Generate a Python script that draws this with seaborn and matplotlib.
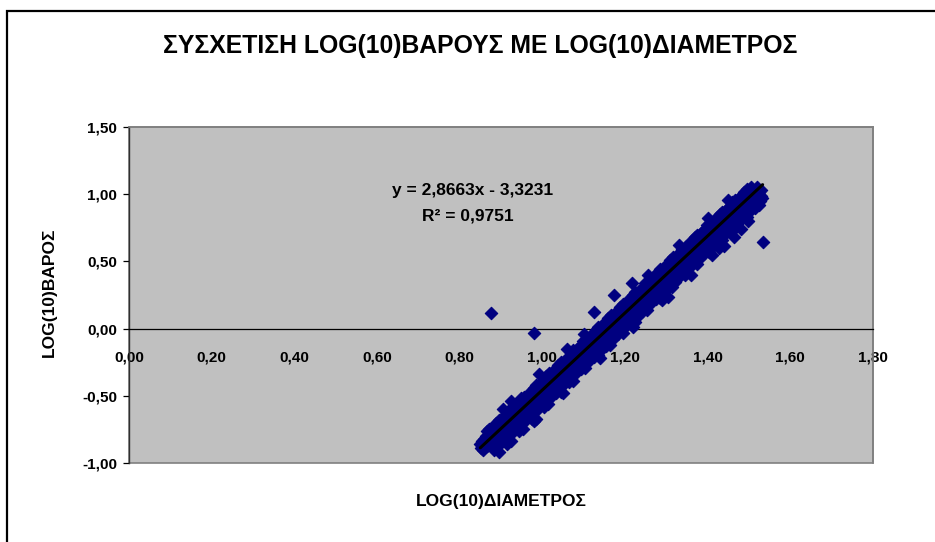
import matplotlib
matplotlib.use("Agg")
import matplotlib.pyplot as plt
import seaborn as sns
import pandas as pd
from matplotlib.patches import Rectangle

# ---------------- data ----------------
title = "ΣΥΣΧΕΤΙΣΗ LOG(10)ΒΑΡΟΥΣ ΜΕ LOG(10)ΔΙΑΜΕΤΡΟΣ"
x_label = "LOG(10)ΔΙΑΜΕΤΡΟΣ"
y_label = "LOG(10)ΒΑΡΟΣ"
x_ticks = [0.0, 0.2, 0.4, 0.6, 0.8, 1.0, 1.2, 1.4, 1.6, 1.8]
y_ticks = [-1.0, -0.5, 0.0, 0.5, 1.0, 1.5]
slope = 2.8663
intercept = -3.3231
r_squared = 0.9751

log_diam = [
    0.850, 0.852, 0.854, 0.855, 0.857, 0.859, 0.860, 0.862, 0.864, 0.865, 0.867, 0.869,
    0.870, 0.872, 0.874, 0.875, 0.877, 0.879, 0.880, 0.882, 0.884, 0.885, 0.887, 0.889,
    0.890, 0.892, 0.894, 0.895, 0.897, 0.899, 0.900, 0.902, 0.904, 0.905, 0.907, 0.909,
    0.910, 0.912, 0.914, 0.915, 0.917, 0.919, 0.920, 0.922, 0.924, 0.925, 0.927, 0.929,
    0.930, 0.932, 0.934, 0.935, 0.937, 0.939, 0.940, 0.942, 0.944, 0.945, 0.947, 0.949,
    0.950, 0.952, 0.954, 0.955, 0.957, 0.959, 0.960, 0.962, 0.964, 0.965, 0.967, 0.969,
    0.970, 0.972, 0.974, 0.975, 0.977, 0.979, 0.980, 0.982, 0.984, 0.985, 0.987, 0.989,
    0.990, 0.992, 0.994, 0.995, 0.997, 0.999, 1.000, 1.002, 1.004, 1.005, 1.007, 1.009,
    1.010, 1.012, 1.014, 1.015, 1.017, 1.019, 1.020, 1.022, 1.024, 1.025, 1.027, 1.029,
    1.030, 1.032, 1.034, 1.035, 1.037, 1.039, 1.040, 1.042, 1.044, 1.045, 1.047, 1.049,
    1.050, 1.052, 1.054, 1.055, 1.057, 1.059, 1.060, 1.062, 1.064, 1.065, 1.067, 1.069,
    1.070, 1.072, 1.074, 1.075, 1.077, 1.079, 1.080, 1.082, 1.084, 1.085, 1.087, 1.089,
    1.090, 1.092, 1.094, 1.095, 1.097, 1.099, 1.100, 1.102, 1.104, 1.105, 1.107, 1.109,
    1.110, 1.112, 1.114, 1.115, 1.117, 1.119, 1.120, 1.122, 1.124, 1.125, 1.127, 1.129,
    1.130, 1.132, 1.134, 1.135, 1.137, 1.139, 1.140, 1.142, 1.144, 1.145, 1.147, 1.149,
    1.150, 1.152, 1.154, 1.155, 1.157, 1.159, 1.160, 1.162, 1.164, 1.165, 1.167, 1.169,
    1.170, 1.172, 1.174, 1.175, 1.177, 1.179, 1.180, 1.182, 1.184, 1.185, 1.187, 1.189,
    1.190, 1.192, 1.194, 1.195, 1.197, 1.199, 1.200, 1.202, 1.204, 1.205, 1.207, 1.209,
    1.210, 1.212, 1.214, 1.215, 1.217, 1.219, 1.220, 1.222, 1.224, 1.225, 1.227, 1.229,
    1.230, 1.232, 1.234, 1.235, 1.237, 1.239, 1.240, 1.242, 1.244, 1.245, 1.247, 1.249,
    1.250, 1.252, 1.254, 1.255, 1.257, 1.259, 1.260, 1.262, 1.264, 1.265, 1.267, 1.269,
    1.270, 1.272, 1.274, 1.275, 1.277, 1.279, 1.280, 1.282, 1.284, 1.285, 1.287, 1.289,
    1.290, 1.292, 1.294, 1.295, 1.297, 1.299, 1.300, 1.302, 1.304, 1.305, 1.307, 1.309,
    1.310, 1.312, 1.314, 1.315, 1.317, 1.319, 1.320, 1.322, 1.324, 1.325, 1.327, 1.329,
    1.330, 1.332, 1.334, 1.335, 1.337, 1.339, 1.340, 1.342, 1.344, 1.345, 1.347, 1.349,
    1.350, 1.352, 1.354, 1.355, 1.357, 1.359, 1.360, 1.362, 1.364, 1.365, 1.367, 1.369,
    1.370, 1.372, 1.374, 1.375, 1.377, 1.379, 1.380, 1.382, 1.384, 1.385, 1.387, 1.389,
    1.390, 1.392, 1.394, 1.395, 1.397, 1.399, 1.400, 1.402, 1.404, 1.405, 1.407, 1.409,
    1.410, 1.412, 1.414, 1.415, 1.417, 1.419, 1.420, 1.422, 1.424, 1.425, 1.427, 1.429,
    1.430, 1.432, 1.434, 1.435, 1.437, 1.439, 1.440, 1.442, 1.444, 1.445, 1.447, 1.449,
    1.450, 1.452, 1.454, 1.455, 1.457, 1.459, 1.460, 1.462, 1.464, 1.465, 1.467, 1.469,
    1.470, 1.472, 1.474, 1.475, 1.477, 1.479, 1.480, 1.482, 1.484, 1.485, 1.487, 1.489,
    1.490, 1.492, 1.494, 1.495, 1.497, 1.499, 1.500, 1.502, 1.504, 1.505, 1.507, 1.509,
    1.510, 1.512, 1.514, 1.515, 1.517, 1.519, 1.520, 1.522, 1.524, 1.525, 1.527, 1.529,
    1.530, 1.532,
]
log_weight = [
    -0.86, -0.89, -0.87, -0.84, -0.90, -0.85, -0.82, -0.88, -0.80, -0.76, -0.87, -0.82,
    -0.75, -0.86, -0.79, -0.78, -0.86, -0.74, -0.73, -0.82, -0.90, -0.77, -0.86, -0.70,
    -0.81, -0.72, -0.92, -0.68, -0.85, -0.76, -0.85, -0.70, -0.79, -0.67, -0.74, -0.84,
    -0.64, -0.73, -0.85, -0.68, -0.77, -0.61, -0.73, -0.64, -0.84, -0.59, -0.76, -0.67,
    -0.77, -0.62, -0.71, -0.58, -0.65, -0.73, -0.56, -0.65, -0.76, -0.59, -0.68, -0.52,
    -0.64, -0.55, -0.75, -0.51, -0.68, -0.59, -0.68, -0.53, -0.62, -0.50, -0.57, -0.64,
    -0.47, -0.56, -0.67, -0.51, -0.60, -0.44, -0.55, -0.46, -0.67, -0.42, -0.59, -0.50,
    -0.60, -0.45, -0.54, -0.41, -0.48, -0.56, -0.39, -0.48, -0.58, -0.42, -0.51, -0.35,
    -0.47, -0.38, -0.56, -0.33, -0.50, -0.41, -0.51, -0.36, -0.45, -0.33, -0.40, -0.47,
    -0.30, -0.39, -0.48, -0.34, -0.43, -0.27, -0.38, -0.29, -0.47, -0.25, -0.42, -0.33,
    -0.42, -0.27, -0.36, -0.24, -0.31, -0.38, -0.22, -0.31, -0.40, -0.25, -0.34, -0.18,
    -0.30, -0.21, -0.39, -0.16, -0.33, -0.24, -0.34, -0.19, -0.28, -0.15, -0.22, -0.29,
    -0.13, -0.22, -0.30, -0.16, -0.25, -0.09, -0.21, -0.12, -0.29, -0.08, -0.25, -0.16,
    -0.25, -0.10, -0.19, -0.07, -0.14, -0.21, -0.04, -0.13, -0.21, -0.08, -0.17, -0.01,
    -0.12, -0.03, -0.20, 0.01, -0.16, -0.07, -0.17, -0.02, -0.11, 0.02, -0.05, -0.12,
    0.04, -0.05, -0.13, 0.01, -0.08, 0.08, -0.04, 0.05, -0.12, 0.10, -0.07, 0.02,
    -0.08, 0.07, -0.02, 0.11, 0.04, -0.04, 0.13, 0.04, -0.04, 0.09, 0.00, 0.16,
    0.05, 0.14, -0.03, 0.18, 0.01, 0.10, 0.01, 0.16, 0.07, 0.19, 0.12, 0.05,
    0.22, 0.13, 0.05, 0.18, 0.09, 0.25, 0.13, 0.22, 0.05, 0.27, 0.10, 0.19,
    0.09, 0.24, 0.15, 0.28, 0.21, 0.14, 0.30, 0.21, 0.13, 0.27, 0.18, 0.34,
    0.22, 0.31, 0.14, 0.35, 0.18, 0.27, 0.18, 0.33, 0.24, 0.36, 0.29, 0.22,
    0.39, 0.30, 0.22, 0.35, 0.26, 0.42, 0.31, 0.40, 0.23, 0.44, 0.27, 0.36,
    0.27, 0.42, 0.33, 0.45, 0.38, 0.31, 0.47, 0.38, 0.30, 0.44, 0.35, 0.51,
    0.39, 0.48, 0.31, 0.53, 0.36, 0.45, 0.35, 0.50, 0.41, 0.54, 0.47, 0.40,
    0.56, 0.47, 0.39, 0.52, 0.43, 0.59, 0.48, 0.57, 0.40, 0.61, 0.44, 0.53,
    0.44, 0.59, 0.50, 0.62, 0.55, 0.48, 0.65, 0.56, 0.48, 0.61, 0.52, 0.68,
    0.56, 0.65, 0.48, 0.70, 0.53, 0.62, 0.52, 0.67, 0.58, 0.71, 0.64, 0.57,
    0.73, 0.64, 0.56, 0.70, 0.61, 0.77, 0.65, 0.74, 0.57, 0.78, 0.61, 0.70,
    0.61, 0.76, 0.67, 0.79, 0.72, 0.65, 0.82, 0.73, 0.65, 0.78, 0.69, 0.85,
    0.74, 0.83, 0.66, 0.87, 0.70, 0.79, 0.70, 0.85, 0.76, 0.88, 0.81, 0.74,
    0.90, 0.81, 0.73, 0.87, 0.78, 0.94, 0.82, 0.91, 0.74, 0.96, 0.79, 0.88,
    0.78, 0.93, 0.84, 0.97, 0.90, 0.83, 0.99, 0.90, 0.82, 0.95, 0.86, 1.02,
    0.91, 1.00, 0.83, 1.04, 0.87, 0.96, 0.87, 1.02, 0.93, 1.05, 0.98, 0.91,
    1.03, 0.98, 0.90, 1.00, 0.94, 1.05, 0.99, 1.04, 0.92, 1.02, 0.95, 0.99,
    1.03, 0.97,
]
# scattered points at the edges of the band and clear outliers
edge_diam = [0.905, 0.925, 0.992, 1.060, 1.100, 1.255, 1.330, 1.400, 1.450,
             0.915, 0.980, 1.050, 1.140, 1.220, 1.290, 1.360, 1.410, 1.480]
edge_weight = [-0.60, -0.54, -0.34, -0.15, -0.04, 0.40, 0.62, 0.82, 0.96,
               -0.86, -0.69, -0.48, -0.22, 0.01, 0.21, 0.40, 0.55, 0.74]
outlier_diam = [0.876, 0.981, 1.125, 1.174, 1.216, 1.303, 1.427, 1.440, 1.464, 1.497, 1.517, 1.533]
outlier_weight = [0.114, -0.035, 0.120, 0.248, 0.343, 0.238, 0.600, 0.615, 0.678, 0.800, 0.910, 0.645]

# ---------------- figure ----------------
sns.set_style("white")
plt.rcParams["font.family"] = ["Liberation Sans", "DejaVu Sans"]
plt.rcParams["font.weight"] = "bold"
plt.rcParams["text.color"] = "black"
plt.rcParams["axes.labelcolor"] = "black"
plt.rcParams["xtick.color"] = "black"
plt.rcParams["ytick.color"] = "black"

W, H = 935, 542
fig = plt.figure(figsize=(W / 100, H / 100), dpi=100)
fig.patch.set_facecolor("white")

ax = fig.add_axes([129 / W, 1 - 463 / H, 744 / W, 336 / H])
ax.set_facecolor("#C0C0C0")

df = pd.DataFrame({"x": log_diam + edge_diam + outlier_diam,
                   "y": log_weight + edge_weight + outlier_weight})
sns.scatterplot(data=df, x="x", y="y", marker="D", s=40, color="#000080",
                edgecolor="#000080", linewidth=0.8, ax=ax, zorder=3, legend=False)

x0, x1 = df["x"].min(), df["x"].max()
trend = pd.DataFrame({"x": [x0, x1], "y": [slope * x0 + intercept, slope * x1 + intercept]})
sns.lineplot(data=trend, x="x", y="y", color="black", linewidth=2.2, ax=ax, zorder=4)

ax.set_xlim(x_ticks[0], x_ticks[-1])
ax.set_ylim(y_ticks[0], y_ticks[-1])

def fmt(v):
    return f"{v:.2f}".replace(".", ",")

ax.set_xticks(x_ticks)
ax.set_xticklabels([fmt(v) for v in x_ticks])
ax.set_yticks(y_ticks)
ax.set_yticklabels([fmt(v) for v in y_ticks])
ax.tick_params(axis="x", direction="out", length=4, width=0.9, pad=12,
               labelsize=11, colors="black")
ax.tick_params(axis="y", direction="out", length=4, width=0.9, pad=4.5,
               labelsize=11, colors="black", left=True)

# spines: grey border, black axes lines
for side in ["top", "right"]:
    ax.spines[side].set_color("#808080")
    ax.spines[side].set_linewidth(1.2)
ax.spines["left"].set_color("#303030")
ax.spines["left"].set_linewidth(1.0)
ax.spines["bottom"].set_position(("data", 0))
ax.spines["bottom"].set_color("black")
ax.spines["bottom"].set_linewidth(0.9)
ax.add_patch(Rectangle((0, 0), 1, 1, transform=ax.transAxes, fill=False,
                       edgecolor="#808080", linewidth=1.2, clip_on=False, zorder=0.5))

ax.set_xlabel(x_label, fontsize=12.5, fontweight="bold")
ax.set_ylabel(y_label, fontsize=12.5, fontweight="bold")
ax.xaxis.set_label_coords(0.5, (463 - 494) / 336)
ax.yaxis.set_label_coords((57 - 129) / 744, (463 - 292) / 336)

eq_text = f"y = {slope:.4f}x - {abs(intercept):.4f}".replace(".", ",")
r2_text = f"R² = {r_squared:.4f}".replace(".", ",")
ax.text(0.830, 1.025, eq_text, ha="center", va="center", fontsize=12.5,
        fontweight="bold", zorder=5)
ax.text(0.820, 0.839, r2_text, ha="center", va="center", fontsize=12.5,
        fontweight="bold", zorder=5)

fig.text(480 / W, 1 - 46 / H, title, ha="center", va="center",
         fontsize=17.8, fontweight="bold")

# outer chart frame (left and top edges visible)
fig.add_artist(Rectangle((7 / W, -0.1), 1.2, 1 - 11 / H + 0.1,
                         transform=fig.transFigure, fill=False,
                         edgecolor="black", linewidth=1.6))

fig.savefig("out.png", dpi=100)
